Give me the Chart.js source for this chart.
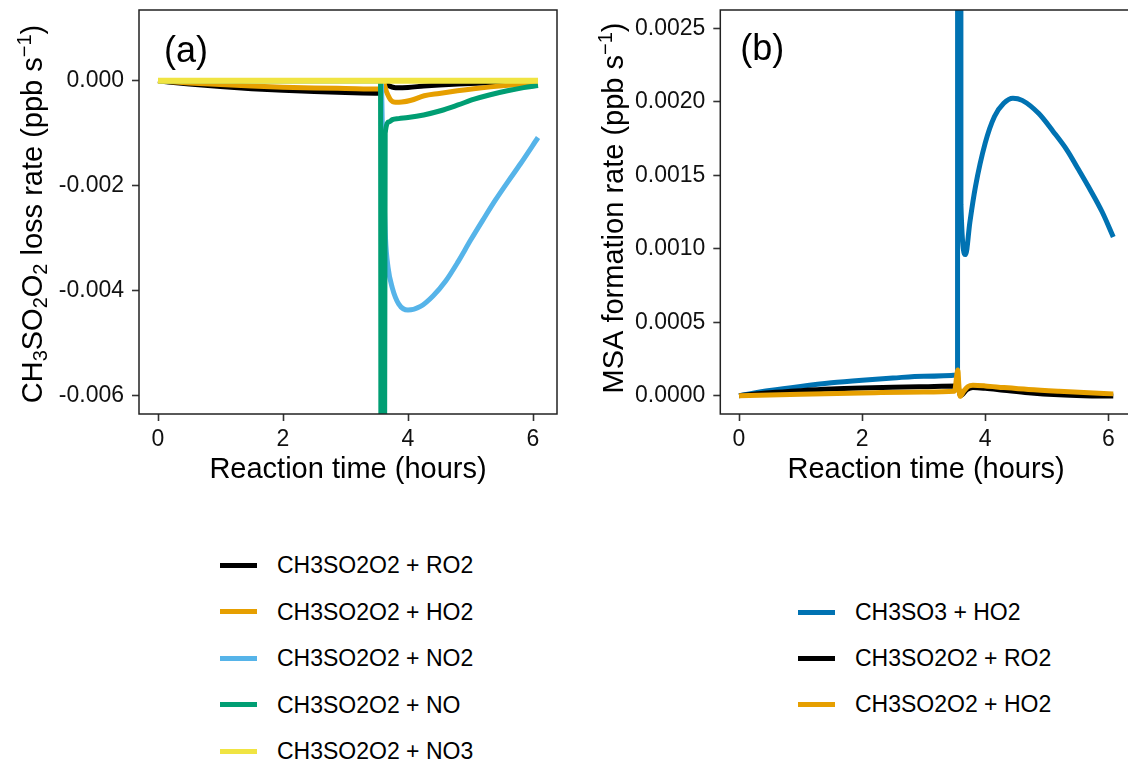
<!DOCTYPE html>
<html lang="en">
<head>
  <meta charset="UTF-8" />
  <title>CH3SO2O2 loss and MSA formation rates</title>
  <script src="https://cdn.jsdelivr.net/npm/chart.js"></script>
  <style>
    html, body { margin: 0; padding: 0; background: #fff; }
    body { width: 1128px; height: 761px; overflow: hidden; position: relative;
           font-family: "Liberation Sans", Arial, sans-serif; }
    canvas { position: absolute; top: 0; }
    #panelA { left: 0; }
    #panelB { left: 570px; }
    .legend { position: absolute; }
    .legend .row { position: absolute; height: 0; white-space: nowrap; }
    .legend .swatch { position: absolute; left: 0; top: -2.5px; width: 37px; height: 5px; }
    .legend .label { position: absolute; top: -14px; font-size: 23px; line-height: 28px; color: #000; }
  </style>
</head>
<body>

  <canvas id="panelA" width="570" height="500"></canvas>
  <canvas id="panelB" width="570" height="500"></canvas>
  <div class="legend" id="legendA" style="left:220px; top:565px;"></div>
  <div class="legend" id="legendB" style="left:798px; top:612px;"></div>

  <script>
    // ---- data: reaction time (hours) and rates (ppb s-1) ----
    const xTicks = [0, 2, 4, 6];
    const yTicksA = [0, -0.002, -0.004, -0.006];
    const yTicksB = [0, 0.0005, 0.001, 0.0015, 0.002, 0.0025];

    // (a) CH3SO2O2 loss rate by pathway
    const timeRO2A = [0, 0.5, 1, 1.5, 2, 2.5, 3, 3.55, 3.6, 3.67, 3.8, 4.0, 4.25, 4.5, 4.8, 5.2, 5.6, 6.08];
    const lossRO2  = [0, -0.00006, -0.00011, -0.00015, -0.00018, -0.000205, -0.000222, -0.000235, -0.00002, -0.00008, -0.00013, -0.000125, -0.0001, -0.00008, -0.00006, -0.00004, -0.000025, -0.000015];

    const timeHO2A = [0, 0.5, 1, 1.5, 2, 2.5, 3, 3.55, 3.6, 3.66, 3.72, 3.8, 3.9, 4.05, 4.26, 4.5, 4.79, 5.05, 5.32, 5.6, 5.86, 6.08];
    const lossHO2  = [0, -0.00004, -0.00007, -0.0001, -0.00012, -0.000135, -0.000145, -0.000155, -0.00003, -0.00022, -0.00036, -0.00041, -0.000405, -0.00037, -0.000285, -0.00024, -0.00019, -0.00015, -0.000115, -0.000085, -0.000063, -0.00005];

    const timeNO2A = [0, 3.57, 3.6, 3.64, 3.68, 3.75, 3.85, 4.0, 4.2, 4.4, 4.6, 4.8, 5.0, 5.2, 5.4, 5.6, 5.8, 6.08];
    const lossNO2  = [0, 0, -0.0015, -0.003, -0.00355, -0.00395, -0.00425, -0.00437, -0.0043, -0.0041, -0.00382, -0.00345, -0.00304, -0.00265, -0.00227, -0.00192, -0.00158, -0.00108];

    const timeNOA  = [0, 3.56, 3.575, 3.605, 3.635, 3.7, 3.75, 3.85, 4.0, 4.25, 4.52, 4.8, 5.06, 5.3, 5.59, 5.85, 6.08];
    const lossNO   = [0, 0, -0.02, -0.02, -0.001, -0.00078, -0.00074, -0.00072, -0.0007, -0.00065, -0.00057, -0.00046, -0.00035, -0.00027, -0.00019, -0.00013, -0.00009];

    const timeNO3A = [0, 1, 2, 3, 3.6, 4, 5, 6.08];
    const lossNO3  = [0, 0, 0, 0, 0, 0, 0, 0];

    // (b) MSA formation rate by pathway
    const timeSO3B = [0, 0.5, 1, 1.5, 2, 2.5, 3, 3.55, 3.578, 3.605, 3.68, 3.75, 3.84, 4.0, 4.15, 4.3, 4.45, 4.6, 4.87, 5.1, 5.33, 5.5, 5.68, 5.9, 6.08];
    const rateSO3  = [0, 0.000035, 0.000063, 0.000087, 0.000105, 0.00012, 0.000132, 0.000142, 0.1, 0.0013, 0.00096, 0.00118, 0.00142, 0.00172, 0.0019, 0.00199, 0.002025, 0.00201, 0.00192, 0.0018, 0.00167, 0.00155, 0.00142, 0.00125, 0.00108];

    const timeRO2B = [0, 0.5, 1, 1.5, 2, 2.5, 3, 3.55, 3.6, 3.7, 3.8, 4.0, 4.3, 4.7, 5.2, 5.6, 6.08];
    const rateRO2  = [0, 0.00002, 0.000034, 0.000045, 0.000052, 0.000057, 0.000061, 0.000065, 0, 0.00004, 0.000055, 0.00005, 0.000037, 0.00002, 0.000006, 0, -0.000003];

    const timeHO2B = [0, 1, 2, 3, 3.5, 3.555, 3.57, 3.59, 3.65, 3.72, 3.8, 4.0, 4.3, 4.7, 5.2, 5.6, 6.08];
    const rateHO2  = [0, 0.00001, 0.000018, 0.000025, 0.00003, 0.000175, 0.00008, -0.000005, 0.00003, 0.000062, 0.00007, 0.000066, 0.000055, 0.000042, 0.00003, 0.000022, 0.000012];

    const FONT = '"Liberation Sans", Arial, sans-serif';
    const TICK_SIZE = 23;
    const TITLE_SIZE = 29;

    // one line dataset; lower "order" is drawn on top
    function series(label, color, times, values, order, width) {
      return {
        label: label,
        data: times.map((t, i) => ({ x: t, y: values[i] })),
        borderColor: color,
        backgroundColor: color,
        borderWidth: width || 5,
        borderJoinStyle: 'round',
        pointRadius: 0,
        cubicInterpolationMode: 'monotone',
        clip: 0,
        order: order
      };
    }

    // axis titles (with sub/superscripts), panel tag and frame
    const decorations = {
      id: 'decorations',
      afterDraw(chart, args, opts) {
        const ctx = chart.ctx;
        const area = chart.chartArea;
        ctx.save();

        // frame around the panel
        ctx.strokeStyle = '#222';
        ctx.lineWidth = 1.5;
        ctx.strokeRect(area.left, area.top, area.right - area.left, area.bottom - area.top);

        ctx.fillStyle = '#000';
        ctx.textBaseline = 'alphabetic';

        // x title
        ctx.font = TITLE_SIZE + 'px ' + FONT;
        ctx.textAlign = 'center';
        ctx.fillText(opts.xTitle, (area.left + area.right) / 2, opts.xBaseline);

        // y title, rotated, built from pieces: [text, shift] shift -1 = sub, 1 = sup
        const small = Math.round(TITLE_SIZE * 0.7);
        const pieces = opts.yTitle.map(([txt, shift]) => {
          ctx.font = (shift ? small : TITLE_SIZE) + 'px ' + FONT;
          return { txt, shift, w: ctx.measureText(txt).width };
        });
        const total = pieces.reduce((s, p) => s + p.w, 0);
        ctx.translate(opts.yBaseline, opts.yCenter);
        ctx.rotate(-Math.PI / 2);
        ctx.textAlign = 'left';
        let x = -total / 2;
        pieces.forEach(p => {
          ctx.font = (p.shift ? small : TITLE_SIZE) + 'px ' + FONT;
          const dy = p.shift < 0 ? 5 : (p.shift > 0 ? -11 : 0);
          ctx.fillText(p.txt, x, dy);
          x += p.w;
        });
        ctx.setTransform(1, 0, 0, 1, 0, 0);

        // panel tag
        ctx.font = '36px ' + FONT;
        ctx.textAlign = 'left';
        ctx.textBaseline = 'middle';
        ctx.fillText(opts.tag, area.left + opts.tagDx, opts.tagY);
        ctx.restore();
      }
    };

    function makeScales(yMin, yMax, yTicks, yDigits, yWidth) {
      const tickFont = { family: FONT, size: TICK_SIZE };
      const grid = { display: true, drawOnChartArea: false, drawTicks: true, tickLength: 7, tickColor: '#333', tickWidth: 1.6 };
      return {
        x: {
          type: 'linear', min: -0.304, max: 6.384,
          grid: grid, border: { display: false },
          ticks: { font: tickFont, color: '#111', padding: 5, maxRotation: 0, callback: v => String(v) },
          afterBuildTicks: s => { s.ticks = xTicks.map(v => ({ value: v })); },
          afterFit: s => { s.height = 60; s.paddingLeft = 0; s.paddingRight = 0; }
        },
        y: {
          type: 'linear', min: yMin, max: yMax,
          grid: grid, border: { display: false },
          ticks: { font: tickFont, color: '#111', padding: 8, callback: v => v.toFixed(yDigits) },
          afterBuildTicks: s => { s.ticks = yTicks.map(v => ({ value: v })); },
          afterFit: s => { s.width = yWidth; s.paddingTop = 0; s.paddingBottom = 0; }
        }
      };
    }

    const chartA = new Chart(document.getElementById('panelA'), {
      type: 'line',
      data: {
        datasets: [
          series('CH3SO2O2 + RO2', '#000000', timeRO2A, lossRO2, 4),
          series('CH3SO2O2 + HO2', '#E69F00', timeHO2A, lossHO2, 3),
          series('CH3SO2O2 + NO2', '#56B4E9', timeNO2A, lossNO2, 2),
          series('CH3SO2O2 + NO', '#009E73', timeNOA, lossNO, 1),
          series('CH3SO2O2 + NO3', '#F0E442', timeNO3A, lossNO3, 0, 6)
        ]
      },
      options: {
        responsive: false, animation: false, devicePixelRatio: 1,
        layout: { padding: { top: 10, right: 13, bottom: 26, left: 0 } },
        scales: makeScales(-0.00635, 0.00135, yTicksA, 3, 139),
        plugins: {
          legend: { display: false }, tooltip: { enabled: false },
          decorations: {
            xTitle: 'Reaction time (hours)', xBaseline: 478,
            yTitle: [['CH', 0], ['3', -1], ['SO', 0], ['2', -1], ['O', 0], ['2', -1], [' loss rate (ppb s', 0], ['\u22121', 1], [')', 0]],
            yBaseline: 42, yCenter: 214,
            tag: '(a)', tagDx: 25, tagY: 52
          }
        }
      },
      plugins: [decorations]
    });

    const chartB = new Chart(document.getElementById('panelB'), {
      type: 'line',
      data: {
        datasets: [
          series('CH3SO3 + HO2', '#0072B2', timeSO3B, rateSO3, 2),
          series('CH3SO2O2 + RO2', '#000000', timeRO2B, rateRO2, 1),
          series('CH3SO2O2 + HO2', '#E69F00', timeHO2B, rateHO2, 0)
        ]
      },
      options: {
        responsive: false, animation: false, devicePixelRatio: 1,
        layout: { padding: { top: 10, right: 8, bottom: 26, left: 0 } },
        scales: makeScales(-0.000125, 0.002625, yTicksB, 4, 150.3),
        plugins: {
          legend: { display: false }, tooltip: { enabled: false },
          decorations: {
            xTitle: 'Reaction time (hours)', xBaseline: 478,
            yTitle: [['MSA formation rate (ppb s', 0], ['\u22121', 1], [')', 0]],
            yBaseline: 53, yCenter: 208,
            tag: '(b)', tagDx: 20, tagY: 50
          }
        }
      },
      plugins: [decorations]
    });

    // legends under each panel, one entry per row
    function buildLegend(chart, id, gap) {
      const box = document.getElementById(id);
      chart.data.datasets.forEach((ds, i) => {
        const row = document.createElement('div');
        row.className = 'row';
        row.style.top = (i * gap) + 'px';
        row.innerHTML = `<span class="swatch" style="background:${ds.borderColor}"></span>` +
                        `<span class="label" style="left:57px">${ds.label}</span>`;
        box.appendChild(row);
      });
    }
    buildLegend(chartA, 'legendA', 46.5);
    buildLegend(chartB, 'legendB', 46);
  </script>

</body>
</html>
